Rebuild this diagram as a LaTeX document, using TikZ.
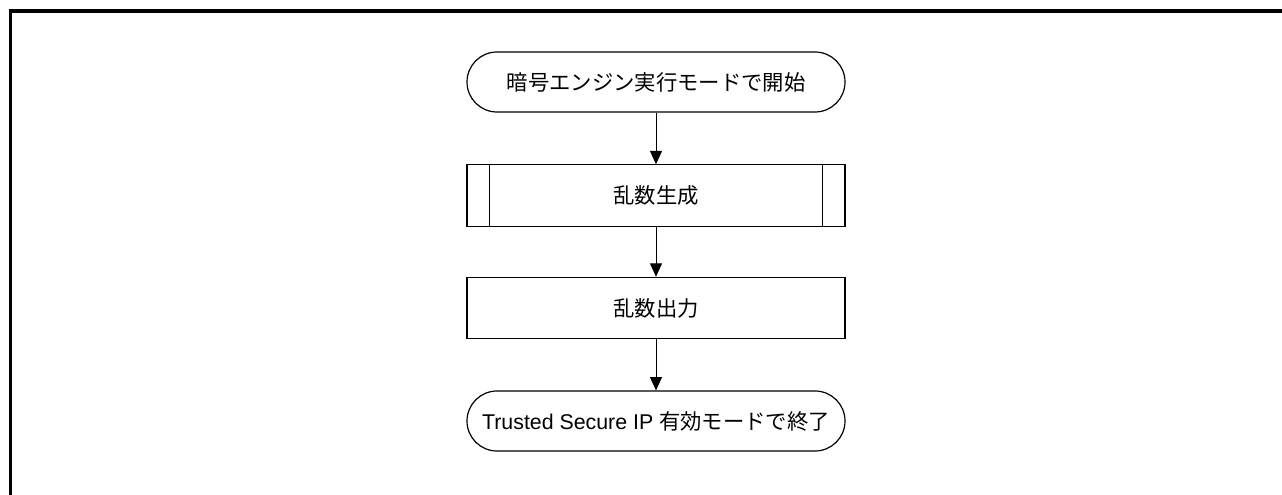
\documentclass[tikz,border=0pt]{standalone}
\usepackage{fontspec}
\setmainfont{Liberation Sans}
\newfontfamily\jpfont{Noto Sans CJK JP}
\usetikzlibrary{calc, arrows.meta}

\begin{document}
\begin{tikzpicture}[x=0.75pt, y=-0.75pt,
  base/.style={draw, line width=0.9pt, minimum width=283.5pt, minimum height=46pt,
    inner sep=0pt, font=\fontsize{16}{19}\selectfont},
  terminal/.style={base, minimum height=45pt, rounded corners=22.5pt},
  flow/.style={-{Triangle[length=10pt, width=9pt]}, line width=0.7pt}]
  \useasboundingbox (0,0) rectangle (1282,495);
  % outer frame: only the top and left edges are in view
  \draw[line width=2.4pt] (10.5,495) -- (10.5,11) -- (1282,11);
  \node[terminal] (start) at (656,82) {\jpfont 暗号エンジン実行モードで開始};
  \node[base] (gen) at (656,195.5) {\jpfont 乱数生成};
  % side bars of the predefined process
  \draw[line width=0.9pt] ($(gen.north west)+(23,0)$) -- ($(gen.south west)+(23,0)$);
  \draw[line width=0.9pt] ($(gen.north east)+(-23,0)$) -- ($(gen.south east)+(-23,0)$);
  \node[base] (out) at (656,308) {\jpfont 乱数出力};
  \node[terminal] (stop) at (656,421) {Trusted Secure IP {\jpfont 有効モードで終了}};
  \draw[flow] (start) -- (gen);
  \draw[flow] (gen) -- (out);
  \draw[flow] (out) -- (stop);
\end{tikzpicture}
\end{document}
